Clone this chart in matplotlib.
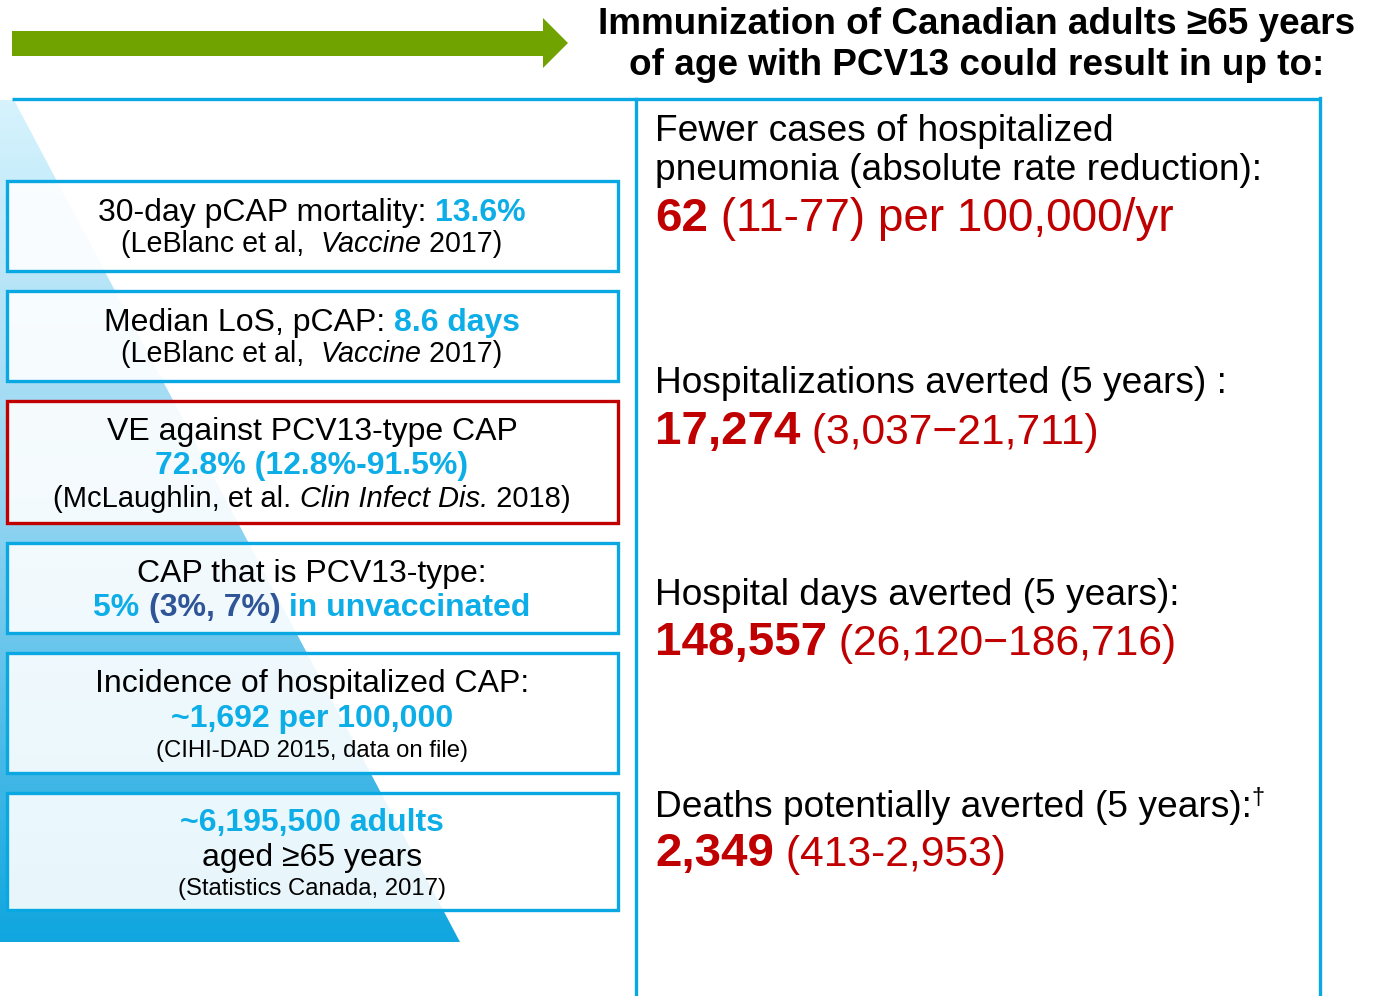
import matplotlib
matplotlib.use('Agg')
import matplotlib.pyplot as plt
import numpy as np
from matplotlib.patches import Polygon, Rectangle
from matplotlib.colors import LinearSegmentedColormap

plt.rcParams['font.family'] = ['Liberation Sans', 'DejaVu Sans']

# ---------------- data ----------------
title_lines = ["Immunization of Canadian adults \u226565 years",
               "of age with PCV13 could result in up to:"]

left_boxes = [
    [[("30-day pCAP mortality: ", "main"), ("13.6%", "hl")],
     [("(LeBlanc et al,  ", "cite"), ("Vaccine", "cite_i"), (" 2017)", "cite")]],
    [[("Median LoS, pCAP: ", "main"), ("8.6 days", "hl")],
     [("(LeBlanc et al,  ", "cite"), ("Vaccine", "cite_i"), (" 2017)", "cite")]],
    [[("VE against PCV13-type CAP", "main")],
     [("72.8% (12.8%-91.5%)", "hl")],
     [("(McLaughlin, et al. ", "cite3"), ("Clin Infect Dis.", "cite3_i"), (" 2018)", "cite3")]],
    [[("CAP that is PCV13-type:", "main")],
     [("5% ", "hl"), ("(3%, 7%)", "hl2"), (" in unvaccinated", "hl")]],
    [[("Incidence of hospitalized CAP:", "main")],
     [("~1,692 per 100,000", "hl")],
     [("(CIHI-DAD 2015, data on file)", "small")]],
    [[("~6,195,500 adults", "hl")],
     [("aged \u226565 years", "main")],
     [("(Statistics Canada, 2017)", "small")]],
]
left_box_edge = ["blue", "blue", "red", "blue", "blue", "blue"]

right_headers = [[[("Fewer cases of hospitalized", "rhead")],
                  [("pneumonia (absolute rate reduction):", "rhead")]],
                 [[("Hospitalizations averted (5 years) :", "rhead")]],
                 [[("Hospital days averted (5 years):", "rhead")]],
                 [[("Deaths potentially averted (5 years):", "rhead"), ("\u2020", "sup")]]]
right_main_values = ["62", "17,274", "148,557", "2,349"]
right_ranges = [" (11-77) per 100,000/yr", " (3,037\u221221,711)",
                " (26,120\u2212186,716)", " (413-2,953)"]
right_range_styles = ["rrange1", "rrange", "rrange", "rrange"]

# ---------------- layout ----------------
W, H = 1374, 996
fig = plt.figure(figsize=(W / 100, H / 100), dpi=100)
ax = fig.add_axes([0, 0, 1, 1])
ax.set_xlim(0, W)
ax.set_ylim(H, 0)
ax.axis('off')

BLUE = '#0aa8e2'
HL = '#0daee8'
NAVY = '#2f5597'
RED = '#c00000'
GREEN = '#70a300'

styles = {
    "main": dict(size=23, color='black'),
    "hl": dict(size=23, color=HL, weight='bold'),
    "hl2": dict(size=23, color=NAVY, weight='bold'),
    "cite": dict(size=20.6, color='black'),
    "cite_i": dict(size=20.6, color='black', style='italic'),
    "cite3": dict(size=21, color='black'),
    "cite3_i": dict(size=21, color='black', style='italic'),
    "small": dict(size=17.2, color='black'),
    "rhead": dict(size=26.7, color='black'),
    "sup": dict(size=17, color='black'),
    "rbig": dict(size=34.2, color=RED, weight='bold'),
    "rrange": dict(size=30.7, color=RED),
    "rrange1": dict(size=33, color=RED),
    "title": dict(size=26.6, color='black', weight='bold'),
}
raise_px = {"sup": 13}

renderer = fig.canvas.get_renderer()


def text_width(s, st):
    t1 = ax.text(0, 0, s + "x", **styles[st])
    t2 = ax.text(0, 0, "x", **styles[st])
    w = t1.get_window_extent(renderer).width - t2.get_window_extent(renderer).width
    t1.remove()
    t2.remove()
    return w


def draw_line(segs, x, y, ha='center', z=5):
    widths = [text_width(s, st) for s, st in segs]
    total = sum(widths)
    x0 = x - total / 2 if ha == 'center' else x
    for (s, st), w in zip(segs, widths):
        ax.text(x0, y - raise_px.get(st, 0), s, ha='left', va='baseline',
                zorder=z, **styles[st])
        x0 += w


# green arrow
ax.add_patch(Polygon([(12, 31), (543, 31), (543, 18), (568, 43), (543, 68),
                      (543, 56), (12, 56)], closed=True, fc=GREEN, ec='none'))

# title
for line, yb in zip(title_lines, [34, 75]):
    draw_line([(line, "title")], 977, yb)

# gradient triangle
tri = Polygon([(0, 100), (14, 100), (460, 942), (0, 942)], closed=True,
              fc='none', ec='none')
ax.add_patch(tri)
cmap = LinearSegmentedColormap.from_list('g', ['#d6f3fd', '#8fd3f1', '#10a6df'])
grad = np.linspace(0, 1, 256).reshape(-1, 1)
im = ax.imshow(grad, cmap=cmap, extent=[0, 460, 942, 100], aspect='auto',
               interpolation='bilinear', zorder=1)
im.set_clip_path(tri)
ax.set_xlim(0, W)
ax.set_ylim(H, 0)

# frames
ax.plot([12, 1320], [99, 99], color=BLUE, lw=2.4, zorder=3, solid_capstyle='butt')
ax.plot([636, 636], [99, 996], color=BLUE, lw=2.4, zorder=3)
ax.plot([1320, 1320], [97.9, 996], color=BLUE, lw=2.4, zorder=3)

# left boxes
box_y = [(181, 271), (291, 381), (401, 523), (543, 633), (653, 773), (793, 910)]
line_baselines = [[221, 252], [331, 362], [440, 474, 507], [582, 616],
                  [692, 727, 757], [831, 866, 895]]
for lines, (y0, y1), bls, ec in zip(left_boxes, box_y, line_baselines, left_box_edge):
    ax.add_patch(Rectangle((7, y0), 611, y1 - y0, fc='white', alpha=0.9,
                           ec='none', zorder=2))
    ax.add_patch(Rectangle((7, y0), 611, y1 - y0, fc='none',
                           ec=(RED if ec == 'red' else BLUE), lw=2.4, zorder=3))
    for segs, yb in zip(lines, bls):
        draw_line(segs, 312, yb)

# right panel
head_baselines = [[141, 180], [393], [605], [817]]
val_baselines = [231, 444, 655, 866]
for heads, hbs, mv, rg, rs, vb in zip(right_headers, head_baselines, right_main_values,
                                      right_ranges, right_range_styles, val_baselines):
    for h, yb in zip(heads, hbs):
        draw_line(h, 655, yb, ha='left')
    draw_line([(mv, "rbig"), (rg, rs)], 655, vb, ha='left')

fig.savefig('out.png', dpi=100)
